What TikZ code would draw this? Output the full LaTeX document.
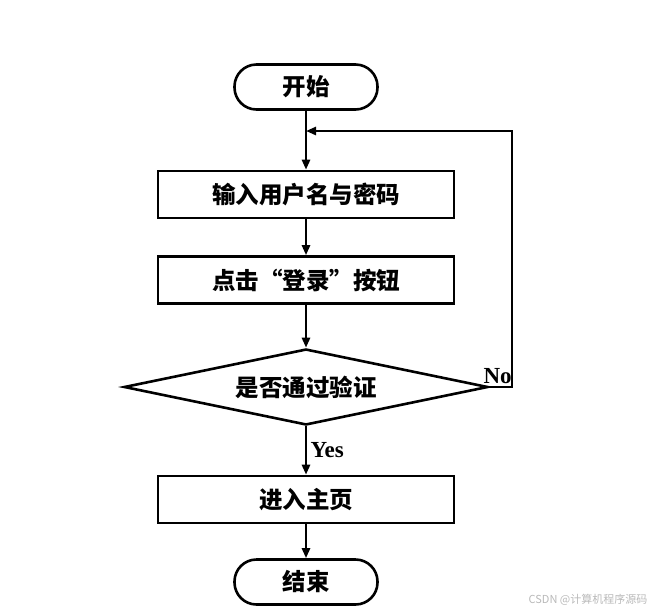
\documentclass[tikz,border=0pt]{standalone}
\usepackage{fontspec}
\setmainfont{Liberation Serif}
\newfontfamily\cjk{Noto Sans CJK SC}
\usetikzlibrary{arrows.meta,shapes.geometric,positioning}
\newcommand*{\bigtxt}{\fontsize{23.5}{27}\selectfont\bfseries}

\begin{document}
\begin{tikzpicture}[x=1pt, y=-1pt, ->, >={Triangle[length=10pt,width=8pt]}, line width=2.6pt, font=\fontsize{23}{27}\selectfont\bfseries]
    \tikzstyle{term}=[draw, rounded corners=22pt, minimum width=143pt, minimum height=45pt, font=\cjk\bigtxt]
    \tikzstyle{proc}=[draw, minimum width=296pt, minimum height=47pt, font=\cjk\bigtxt]
    \tikzstyle{cond}=[draw, diamond, aspect=4.6, minimum width=364pt, minimum height=76pt, inner sep=0pt, font=\cjk\bigtxt]
    \useasboundingbox (0,0) rectangle (656,614);
    \node[term]     (A) at (306,87)         {开始};
    \node[proc]     (B) at (306,194.5)      {输入用户名与密码};
    \node[proc]     (C) at (306,280)        {点击“登录”按钮};
    \node[cond]     (D) at (306,387)        {是否通过验证};
    \node[proc]     (E) at (306,499.5)      {进入主页};
    \node[term]     (F) at (306,582)        {结束};
    \coordinate     (J) at (306,131);
    \coordinate     (K) at (512,131);
    \path
(A) edge                    (B)
(B) edge                    (C)
(C) edge                    (D)
(D) edge    node[right]{Yes} (E)
(E) edge                    (F);
    \draw (D.east) -| node[pos=0.25, above, xshift=-3pt, inner sep=2pt]{No} (K) -- (J);
    % watermark
    \node[anchor=east, text=gray!55, font=\cjk\fontsize{11}{13}\selectfont] (W) at (652,600) {CSDN @计算机程序源码};
\end{tikzpicture}
\end{document}
